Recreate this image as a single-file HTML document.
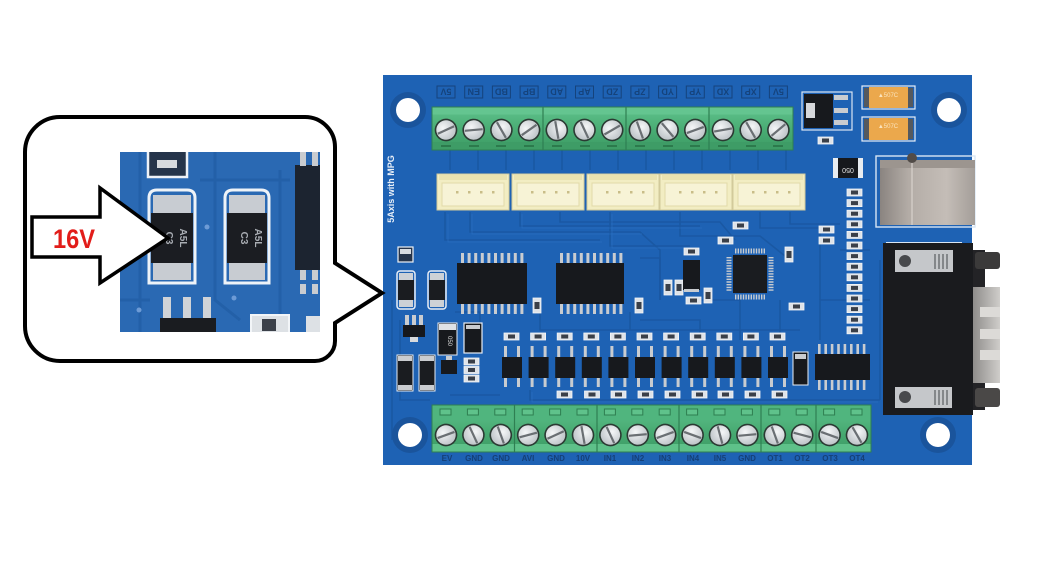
<!DOCTYPE html>
<html><head><meta charset="utf-8"><style>
html,body{margin:0;padding:0;background:#fff;width:1050px;height:568px;overflow:hidden;}
svg{display:block;}
text{font-family:"Liberation Sans",sans-serif;}
</style></head><body>
<svg width="1050" height="568" viewBox="0 0 1050 568" xmlns="http://www.w3.org/2000/svg">
<defs>
 <linearGradient id="grn" x1="0" y1="0" x2="0" y2="1">
  <stop offset="0" stop-color="#60c28c"/><stop offset="0.5" stop-color="#4aad75"/><stop offset="1" stop-color="#3c9b64"/>
 </linearGradient>
 <radialGradient id="scr" cx="0.4" cy="0.35" r="0.75">
  <stop offset="0" stop-color="#f4f6f7"/><stop offset="1" stop-color="#b6bcc1"/>
 </radialGradient>
 <linearGradient id="usbg" x1="0" y1="0" x2="1" y2="0">
  <stop offset="0" stop-color="#8a8480"/><stop offset="0.3" stop-color="#b3aca6"/><stop offset="0.7" stop-color="#c4bdb7"/><stop offset="1" stop-color="#a49e99"/>
 </linearGradient>
 <linearGradient id="shell" x1="0" y1="0" x2="1" y2="0">
  <stop offset="0" stop-color="#8f8d8b"/><stop offset="1" stop-color="#cfcdca"/>
 </linearGradient>
 <g id="sc">
  <circle r="10.5" fill="url(#scr)" stroke="#2b3a33" stroke-width="1.6"/>
  <line x1="-9" y1="0" x2="9" y2="0" stroke="#6a6f73" stroke-width="2.2"/>
 </g>
 <g id="r">
  <rect x="0" y="0" width="15" height="7" fill="#dfe3e8" stroke="#f3f5f8" stroke-width="0.8"/>
  <rect x="4" y="1.5" width="7" height="4" fill="#3a3f48"/>
 </g>
 <g id="rv">
  <rect x="0" y="0" width="8" height="15" fill="#dfe3e8" stroke="#f3f5f8" stroke-width="0.8"/>
  <rect x="1.5" y="4" width="5" height="7" fill="#3a3f48"/>
 </g>
 <g id="op">
  <rect x="2" y="0" width="3" height="11" fill="#c9ccd0"/>
  <rect x="15" y="0" width="3" height="11" fill="#c9ccd0"/>
  <rect x="2" y="31" width="3" height="10" fill="#c9ccd0"/>
  <rect x="15" y="31" width="3" height="10" fill="#c9ccd0"/>
  <rect x="0" y="11" width="20" height="21" fill="#17191d"/>
 </g>
 <g id="jst">
  <rect x="0" y="0" width="72" height="36" fill="#f2edc3" stroke="#d2ca9b" stroke-width="1"/>
  <rect x="2" y="1" width="68" height="5" fill="#e9e2b0"/>
  <rect x="5" y="9" width="62" height="23" fill="#f7f3d6" stroke="#e2daa9" stroke-width="1"/>
  <rect x="19" y="17" width="2.5" height="2.5" fill="#c9bd88"/>
  <rect x="31" y="17" width="2.5" height="2.5" fill="#c9bd88"/>
  <rect x="43" y="17" width="2.5" height="2.5" fill="#c9bd88"/>
  <rect x="55" y="17" width="2.5" height="2.5" fill="#c9bd88"/>
 </g>
 <clipPath id="ph"><rect x="120" y="152" width="200" height="180"/></clipPath>
</defs>

<rect width="1050" height="568" fill="#fff"/>

<!-- ================= BOARD ================= -->
<rect x="383" y="75" width="589" height="390" fill="#1e62b4"/>
<!-- traces texture -->
<g fill="none" stroke="#1a58a3" stroke-width="1.6">
 <path d="M450 150 V170 M478 150 V170 M506 150 V170 M534 150 V170 M562 150 V170 M590 150 V170 M618 150 V170 M646 150 V170 M674 150 V170 M702 150 V170 M730 150 V170 M758 150 V170 M786 150 V170"/>
 <path d="M445 212 V240 H600 M470 212 V232 H640 L660 250 V300 M520 212 V226 H700 M560 212 V222 H720 L735 240 M610 212 V246 H690 M680 212 V236 H760 L790 260 M760 212 V228 H820 V300 M790 212 V224 H840"/>
 <path d="M400 320 V400 H430 M392 300 V440 M450 395 H500 M530 390 V400 H880 M880 260 V400 M870 250 H840 M640 320 H700 V340 M700 300 H740 V340 M780 300 V340 M820 340 V300 H870"/>
 <path d="M540 310 V330 H800 M455 312 H480 V330 M630 312 V330 M640 258 H660 V300"/>
</g>
<g fill="none" stroke="#2a70c2" stroke-width="0.8" opacity="0.8">
 <path d="M448 214 V242 H602 M472 214 V234 H642 M522 214 V228 H702 M612 214 V248 H692"/>
 <path d="M532 392 V402 H878"/>
</g>

<!-- holes -->
<circle cx="408" cy="110" r="18" fill="#1a549c"/><circle cx="408" cy="110" r="12" fill="#fff"/>
<circle cx="949" cy="110" r="18" fill="#1a549c"/><circle cx="949" cy="110" r="12" fill="#fff"/>
<circle cx="410" cy="435" r="18" fill="#1a549c"/><circle cx="410" cy="435" r="12" fill="#fff"/>
<circle cx="938" cy="435" r="18" fill="#1a549c"/><circle cx="938" cy="435" r="12" fill="#fff"/>

<!-- side text -->
<text transform="translate(394,189) rotate(-90)" font-size="9" font-weight="bold" fill="#e8eff8" text-anchor="middle">5Axis with MPG</text>

<!-- top labels (upside down) -->
<g font-size="9" font-weight="bold" fill="#15437c" text-anchor="middle">
 <g transform="translate(446,92) rotate(180)"><rect x="-9" y="-6" width="18" height="12" fill="none" stroke="#15437c"/><text y="3.5">5V</text></g>
 <g transform="translate(473.7,92) rotate(180)"><rect x="-9" y="-6" width="18" height="12" fill="none" stroke="#15437c"/><text y="3.5">EN</text></g>
 <g transform="translate(501.4,92) rotate(180)"><rect x="-9" y="-6" width="18" height="12" fill="none" stroke="#15437c"/><text y="3.5">BD</text></g>
 <g transform="translate(529.1,92) rotate(180)"><rect x="-9" y="-6" width="18" height="12" fill="none" stroke="#15437c"/><text y="3.5">BP</text></g>
 <g transform="translate(556.8,92) rotate(180)"><rect x="-9" y="-6" width="18" height="12" fill="none" stroke="#15437c"/><text y="3.5">AD</text></g>
 <g transform="translate(584.5,92) rotate(180)"><rect x="-9" y="-6" width="18" height="12" fill="none" stroke="#15437c"/><text y="3.5">AP</text></g>
 <g transform="translate(612.2,92) rotate(180)"><rect x="-9" y="-6" width="18" height="12" fill="none" stroke="#15437c"/><text y="3.5">ZD</text></g>
 <g transform="translate(639.9,92) rotate(180)"><rect x="-9" y="-6" width="18" height="12" fill="none" stroke="#15437c"/><text y="3.5">ZP</text></g>
 <g transform="translate(667.6,92) rotate(180)"><rect x="-9" y="-6" width="18" height="12" fill="none" stroke="#15437c"/><text y="3.5">YD</text></g>
 <g transform="translate(695.3,92) rotate(180)"><rect x="-9" y="-6" width="18" height="12" fill="none" stroke="#15437c"/><text y="3.5">YP</text></g>
 <g transform="translate(723,92) rotate(180)"><rect x="-9" y="-6" width="18" height="12" fill="none" stroke="#15437c"/><text y="3.5">XD</text></g>
 <g transform="translate(750.7,92) rotate(180)"><rect x="-9" y="-6" width="18" height="12" fill="none" stroke="#15437c"/><text y="3.5">XP</text></g>
 <g transform="translate(778.4,92) rotate(180)"><rect x="-9" y="-6" width="18" height="12" fill="none" stroke="#15437c"/><text y="3.5">5V</text></g>
</g>

<!-- top terminal block -->
<rect x="432" y="107" width="361" height="43" fill="url(#grn)" stroke="#2f7f52" stroke-width="1"/>
<rect x="432.5" y="107.5" width="360" height="7" fill="#64c590"/>
<rect x="432.5" y="142" width="360" height="7.5" fill="#3e9c66"/>
<g stroke="#2f7f52" stroke-width="1.2"><line x1="543" y1="107" x2="543" y2="150"/><line x1="626" y1="107" x2="626" y2="150"/><line x1="709" y1="107" x2="709" y2="150"/></g>
<g fill="#2c7a4c">
 <rect x="441" y="145" width="10" height="2"/><rect x="469" y="145" width="10" height="2"/><rect x="496" y="145" width="10" height="2"/><rect x="524" y="145" width="10" height="2"/><rect x="552" y="145" width="10" height="2"/><rect x="580" y="145" width="10" height="2"/><rect x="607" y="145" width="10" height="2"/><rect x="635" y="145" width="10" height="2"/><rect x="663" y="145" width="10" height="2"/><rect x="690" y="145" width="10" height="2"/><rect x="718" y="145" width="10" height="2"/><rect x="746" y="145" width="10" height="2"/><rect x="773" y="145" width="10" height="2"/>
</g>
<use href="#sc" transform="translate(446,130) rotate(-25)"/>
<use href="#sc" transform="translate(473.7,130) rotate(-5)"/>
<use href="#sc" transform="translate(501.4,130) rotate(60)"/>
<use href="#sc" transform="translate(529.1,130) rotate(-35)"/>
<use href="#sc" transform="translate(556.8,130) rotate(80)"/>
<use href="#sc" transform="translate(584.5,130) rotate(65)"/>
<use href="#sc" transform="translate(612.2,130) rotate(-30)"/>
<use href="#sc" transform="translate(639.9,130) rotate(70)"/>
<use href="#sc" transform="translate(667.6,130) rotate(50)"/>
<use href="#sc" transform="translate(695.3,130) rotate(-20)"/>
<use href="#sc" transform="translate(723,130) rotate(-10)"/>
<use href="#sc" transform="translate(750.7,130) rotate(60)"/>
<use href="#sc" transform="translate(778.4,130) rotate(-40)"/>

<!-- JST connectors -->
<use href="#jst" x="437" y="174"/>
<use href="#jst" x="512" y="174"/>
<use href="#jst" x="587" y="174" />
<use href="#jst" x="660" y="174"/>
<use href="#jst" x="733" y="174"/>

<!-- regulator top right -->
<rect x="802" y="92" width="50" height="38" fill="none" stroke="#d9e5f2" stroke-width="1.2"/>
<rect x="804" y="94" width="29" height="34" fill="#17191d"/>
<rect x="806" y="103" width="9" height="15" fill="#d6d8db"/>
<rect x="834" y="95" width="14" height="5" fill="#c9ccd0"/><rect x="834" y="108" width="14" height="5" fill="#c9ccd0"/><rect x="834" y="120" width="14" height="5" fill="#c9ccd0"/>
<!-- tantalum caps -->
<g>
 <rect x="862" y="86" width="53" height="23" fill="none" stroke="#e6eef8" stroke-width="1.2"/>
 <rect x="864" y="88" width="6" height="19" fill="#55595e"/><rect x="907" y="88" width="6" height="19" fill="#55595e"/>
 <rect x="869" y="87" width="39" height="21" fill="#eba84c"/>
 <text x="888" y="97" font-size="6" fill="#fbe4bd" text-anchor="middle">▲507C</text>
 <rect x="862" y="117" width="53" height="24" fill="none" stroke="#e6eef8" stroke-width="1.2"/>
 <rect x="864" y="119" width="6" height="20" fill="#55595e"/><rect x="907" y="119" width="6" height="20" fill="#55595e"/>
 <rect x="869" y="118" width="39" height="22" fill="#eba84c"/>
 <text x="888" y="128" font-size="6" fill="#fbe4bd" text-anchor="middle">▲507C</text>
</g>
<use href="#r" x="818" y="137"/>
<!-- fuse 050 -->
<rect x="833" y="158" width="30" height="20" fill="#e8ecf0"/>
<rect x="838" y="158" width="20" height="20" fill="#16181c"/>
<text transform="translate(848,168) rotate(180)" font-size="7" fill="#e6e6e6" text-anchor="middle">050</text>

<!-- USB -->
<rect x="876" y="156" width="99" height="71" fill="none" stroke="#d8e6f4" stroke-width="1.4"/>
<rect x="880" y="160" width="95" height="65" fill="url(#usbg)"/>
<rect x="880" y="160" width="95" height="8" fill="#9c958f"/>
<line x1="912" y1="160" x2="912" y2="225" stroke="#d8d2cc" stroke-width="1.2"/>
<circle cx="912" cy="158" r="5" fill="#514b47"/>

<!-- right resistor column -->
<use href="#r" x="847" y="189"/><use href="#r" x="847" y="199.6"/><use href="#r" x="847" y="210.2"/><use href="#r" x="847" y="220.8"/><use href="#r" x="847" y="231.4"/><use href="#r" x="847" y="242"/><use href="#r" x="847" y="252.6"/><use href="#r" x="847" y="263.2"/><use href="#r" x="847" y="273.8"/><use href="#r" x="847" y="284.4"/><use href="#r" x="847" y="295"/><use href="#r" x="847" y="305.6"/><use href="#r" x="847" y="316.2"/><use href="#r" x="847" y="326.8"/>
<use href="#r" x="819" y="226"/><use href="#r" x="819" y="237"/>

<!-- DB9 -->
<rect x="886" y="242" width="76" height="2" fill="#d8e6f4"/>
<rect x="883" y="243" width="90" height="172" fill="#1a1b1e"/>
<rect x="973" y="250" width="12" height="160" fill="#232326"/>
<rect x="973" y="287" width="27" height="96" fill="url(#shell)"/>
<rect x="980" y="307" width="20" height="10" fill="#dcdad7"/>
<rect x="980" y="329" width="20" height="10" fill="#dcdad7"/>
<rect x="980" y="350" width="20" height="10" fill="#dcdad7"/>
<rect x="975" y="252" width="25" height="17" rx="3" fill="#3b3a3a"/>
<rect x="975" y="388" width="25" height="19" rx="3" fill="#4a4847"/>
<rect x="895" y="250" width="58" height="22" fill="#c5c7ca"/>
<circle cx="905" cy="261" r="6" fill="#48494c"/>
<g stroke="#5a5c60" stroke-width="1.2"><line x1="935" y1="254" x2="935" y2="269"/><line x1="939" y1="254" x2="939" y2="269"/><line x1="943" y1="254" x2="943" y2="269"/><line x1="947" y1="254" x2="947" y2="269"/></g>
<rect x="895" y="387" width="57" height="21" fill="#c5c7ca"/>
<circle cx="905" cy="397" r="6" fill="#48494c"/>
<g stroke="#5a5c60" stroke-width="1.2"><line x1="935" y1="390" x2="935" y2="405"/><line x1="939" y1="390" x2="939" y2="405"/><line x1="943" y1="390" x2="943" y2="405"/><line x1="947" y1="390" x2="947" y2="405"/></g>

<!-- TSSOP ICs -->
<line x1="461" y1="258" x2="523.4" y2="258" stroke="#c9ccd0" stroke-width="10" stroke-dasharray="3 3.6"/>
<line x1="461" y1="309" x2="523.4" y2="309" stroke="#c9ccd0" stroke-width="10" stroke-dasharray="3 3.6"/>
<rect x="457" y="263" width="70" height="41" fill="#17191d"/>
<line x1="560" y1="258" x2="622.4" y2="258" stroke="#c9ccd0" stroke-width="10" stroke-dasharray="3 3.6"/>
<line x1="560" y1="309" x2="622.4" y2="309" stroke="#c9ccd0" stroke-width="10" stroke-dasharray="3 3.6"/>
<rect x="556" y="263" width="68" height="41" fill="#17191d"/>
<use href="#rv" x="533" y="298"/>

<!-- middle parts -->
<use href="#r" x="733" y="222"/>
<use href="#r" x="718" y="237"/>
<use href="#r" x="684" y="248"/>
<use href="#rv" x="785" y="247"/>
<use href="#rv" x="664" y="280"/>
<use href="#rv" x="675" y="280"/>
<use href="#r" x="686" y="297"/>
<use href="#rv" x="704" y="288"/>
<use href="#r" x="789" y="303"/>
<use href="#rv" x="635" y="298"/>
<rect x="683" y="260" width="17" height="30" fill="#17191d"/>
<rect x="684" y="289" width="15" height="3" fill="#c9ccd0"/>
<!-- QFP -->
<line x1="735" y1="251" x2="765" y2="251" stroke="#c9ccd0" stroke-width="5" stroke-dasharray="1.4 1.2"/>
<line x1="735" y1="297" x2="765" y2="297" stroke="#c9ccd0" stroke-width="5" stroke-dasharray="1.4 1.2"/>
<line x1="729" y1="257" x2="729" y2="291" stroke="#c9ccd0" stroke-width="5" stroke-dasharray="1.4 1.3"/>
<line x1="771" y1="257" x2="771" y2="291" stroke="#c9ccd0" stroke-width="5" stroke-dasharray="1.4 1.3"/>
<rect x="733" y="255" width="34" height="38" fill="#1a1c20"/>

<!-- left components -->
<rect x="398" y="247" width="15" height="15" fill="#26344a" stroke="#eef2f7" stroke-width="1.2"/>
<rect x="400" y="249" width="11" height="5" fill="#d8dce1"/>
<g>
 <rect x="397" y="271" width="18" height="38" rx="3" fill="none" stroke="#e8eef6" stroke-width="1.5"/>
 <rect x="399" y="273" width="14" height="8" fill="#cdd1d6"/>
 <rect x="399" y="300" width="14" height="7" fill="#cdd1d6"/>
 <rect x="398" y="280" width="16" height="20" fill="#1a1c20"/>
 <rect x="428" y="271" width="18" height="38" rx="3" fill="none" stroke="#e8eef6" stroke-width="1.5"/>
 <rect x="430" y="273" width="14" height="8" fill="#cdd1d6"/>
 <rect x="430" y="300" width="14" height="7" fill="#cdd1d6"/>
 <rect x="429" y="280" width="16" height="20" fill="#1a1c20"/>
</g>
<rect x="405" y="315" width="4" height="10" fill="#c9ccd0"/><rect x="412" y="315" width="4" height="10" fill="#c9ccd0"/><rect x="419" y="315" width="4" height="10" fill="#c9ccd0"/>
<rect x="403" y="325" width="22" height="12" fill="#16181c"/>
<rect x="410" y="337" width="8" height="5" fill="#d8dadd"/>
<rect x="397" y="355" width="16" height="36" fill="#1a1c20" stroke="#e8eef6" stroke-width="1"/>
<rect x="398" y="356" width="14" height="5" fill="#c9ccd0"/><rect x="398" y="385" width="14" height="5" fill="#c9ccd0"/>
<rect x="419" y="355" width="16" height="36" fill="#1a1c20" stroke="#e8eef6" stroke-width="1"/>
<rect x="420" y="356" width="14" height="5" fill="#c9ccd0"/><rect x="420" y="385" width="14" height="5" fill="#c9ccd0"/>
<rect x="438" y="323" width="19" height="32" fill="#17191d" stroke="#e8eef6" stroke-width="1"/>
<rect x="439" y="324" width="17" height="6" fill="#dfe2e6"/>
<text transform="translate(448,341) rotate(90)" font-size="6" fill="#ddd" text-anchor="middle">050</text>
<rect x="464" y="323" width="18" height="30" fill="#17191d" stroke="#e8eef6" stroke-width="1.2"/>
<rect x="466" y="325" width="14" height="4" fill="#c9ccd0"/>
<use href="#r" x="464" y="358"/><use href="#r" x="464" y="366.5"/><use href="#r" x="464" y="375"/>
<rect x="441" y="360" width="16" height="14" fill="#17191d"/>
<rect x="446" y="356" width="6" height="4" fill="#c9ccd0"/>

<!-- resistors above optos -->
<use href="#r" x="504" y="333"/><use href="#r" x="530.6" y="333"/><use href="#r" x="557.2" y="333"/><use href="#r" x="583.8" y="333"/><use href="#r" x="610.4" y="333"/><use href="#r" x="637" y="333"/><use href="#r" x="663.6" y="333"/><use href="#r" x="690.2" y="333"/><use href="#r" x="716.8" y="333"/><use href="#r" x="743.4" y="333"/><use href="#r" x="770" y="333"/>
<!-- optos -->
<use href="#op" x="502" y="346"/><use href="#op" x="528.6" y="346"/><use href="#op" x="555.2" y="346"/><use href="#op" x="581.8" y="346"/><use href="#op" x="608.4" y="346"/><use href="#op" x="635" y="346"/><use href="#op" x="661.6" y="346"/><use href="#op" x="688.2" y="346"/><use href="#op" x="714.8" y="346"/><use href="#op" x="741.4" y="346"/><use href="#op" x="768" y="346"/>
<!-- resistors below -->
<use href="#r" x="557" y="391"/><use href="#r" x="584.5" y="391"/><use href="#r" x="611" y="391"/><use href="#r" x="638" y="391"/><use href="#r" x="665" y="391"/><use href="#r" x="692" y="391"/><use href="#r" x="718" y="391"/><use href="#r" x="745" y="391"/><use href="#r" x="772" y="391"/>
<!-- small black comp and SOIC16 -->
<rect x="793" y="352" width="15" height="33" fill="#17191d" stroke="#e8eef6" stroke-width="1"/>
<rect x="795" y="354" width="11" height="5" fill="#c9ccd0"/>
<line x1="818" y1="349" x2="867" y2="349" stroke="#c9ccd0" stroke-width="10" stroke-dasharray="2.6 3.8"/>
<line x1="818" y1="385" x2="867" y2="385" stroke="#c9ccd0" stroke-width="10" stroke-dasharray="2.6 3.8"/>
<rect x="815" y="354" width="55" height="26" fill="#17191d"/>

<!-- bottom terminal block -->
<rect x="432" y="405" width="439" height="47" fill="url(#grn)" stroke="#2f7f52" stroke-width="1"/>
<rect x="432.5" y="405.5" width="438" height="15" fill="#50b57e"/>
<rect x="432.5" y="444" width="438" height="7.5" fill="#5ec189"/>
<g stroke="#2f7f52" stroke-width="1.2"><line x1="514.5" y1="405" x2="514.5" y2="452"/><line x1="597" y1="405" x2="597" y2="452"/><line x1="679" y1="405" x2="679" y2="452"/><line x1="761" y1="405" x2="761" y2="452"/><line x1="816" y1="405" x2="816" y2="452"/></g>
<g fill="#5fc28b" stroke="#2e7e50" stroke-width="1">
 <rect x="440" y="409" width="11" height="6"/><rect x="467.4" y="409" width="11" height="6"/><rect x="494.8" y="409" width="11" height="6"/><rect x="522.2" y="409" width="11" height="6"/><rect x="549.6" y="409" width="11" height="6"/><rect x="577" y="409" width="11" height="6"/><rect x="604.4" y="409" width="11" height="6"/><rect x="631.8" y="409" width="11" height="6"/><rect x="659.2" y="409" width="11" height="6"/><rect x="686.6" y="409" width="11" height="6"/><rect x="714" y="409" width="11" height="6"/><rect x="741.4" y="409" width="11" height="6"/><rect x="768.8" y="409" width="11" height="6"/><rect x="796.2" y="409" width="11" height="6"/><rect x="823.6" y="409" width="11" height="6"/><rect x="851" y="409" width="11" height="6"/>
</g>
<use href="#sc" transform="translate(446,435) rotate(-20)"/>
<use href="#sc" transform="translate(473.4,435) rotate(65)"/>
<use href="#sc" transform="translate(500.8,435) rotate(70)"/>
<use href="#sc" transform="translate(528.2,435) rotate(-15)"/>
<use href="#sc" transform="translate(555.6,435) rotate(-25)"/>
<use href="#sc" transform="translate(583,435) rotate(80)"/>
<use href="#sc" transform="translate(610.4,435) rotate(65)"/>
<use href="#sc" transform="translate(637.8,435) rotate(-5)"/>
<use href="#sc" transform="translate(665.2,435) rotate(-20)"/>
<use href="#sc" transform="translate(692.6,435) rotate(20)"/>
<use href="#sc" transform="translate(720,435) rotate(75)"/>
<use href="#sc" transform="translate(747.4,435) rotate(-5)"/>
<use href="#sc" transform="translate(774.8,435) rotate(70)"/>
<use href="#sc" transform="translate(802.2,435) rotate(15)"/>
<use href="#sc" transform="translate(829.6,435) rotate(20)"/>
<use href="#sc" transform="translate(857,435) rotate(60)"/>
<!-- bottom labels -->
<g font-size="8" font-weight="bold" fill="#163f76" text-anchor="middle">
 <text x="447" y="461">EV</text><text x="474" y="461">GND</text><text x="501" y="461">GND</text><text x="528" y="461">AVI</text><text x="556" y="461">GND</text><text x="583" y="461">10V</text>
 <text x="610" y="461">IN1</text><text x="638" y="461">IN2</text><text x="665" y="461">IN3</text><text x="693" y="461">IN4</text><text x="720" y="461">IN5</text><text x="747" y="461">GND</text>
 <text x="775" y="461">OT1</text><text x="802" y="461">OT2</text><text x="830" y="461">OT3</text><text x="857" y="461">OT4</text>
</g>

<!-- ================= CALLOUT ================= -->
<path d="M60 117 H305 A30 30 0 0 1 335 147 V263 L382 293 L335 323 V341 A20 20 0 0 1 315 361 H60 A35 35 0 0 1 25 326 V152 A35 35 0 0 1 60 117 Z" fill="#fff" stroke="#000" stroke-width="4" stroke-linejoin="miter"/>

<!-- inner photo -->
<g clip-path="url(#ph)">
 <rect x="120" y="152" width="200" height="180" fill="#2a69b3"/>
 <g fill="none" stroke="#2360a8" stroke-width="3">
  <path d="M140 152 V332 M215 152 V300 L240 320 M280 170 V332 M120 300 H150 M200 180 H290"/>
 </g>
 <!-- top small comp -->
 <rect x="148" y="150" width="39" height="27" fill="#25344a" stroke="#eef2f7" stroke-width="2.5"/>
 <rect x="157" y="160" width="20" height="8" fill="#d6dade"/>
 <!-- cap 1 -->
 <path d="M149 283 V198 Q149 190 157 190 H187 Q195 190 195 198 V283 Z" fill="#2a69b3" stroke="#eef3f8" stroke-width="3"/>
 <rect x="153" y="195" width="38" height="22" fill="#c8ccd2"/>
 <rect x="153" y="260" width="38" height="20" fill="#c8ccd2"/>
 <rect x="151" y="213" width="42" height="50" fill="#1b1d22"/>
 <text transform="translate(166,238) rotate(90)" font-size="10" font-weight="bold" fill="#a9adb3" text-anchor="middle">C3</text>
 <text transform="translate(180,238) rotate(90)" font-size="10" font-weight="bold" fill="#a9adb3" text-anchor="middle">A5L</text>
 <!-- cap 2 -->
 <path d="M225 283 V198 Q225 190 233 190 H261 Q269 190 269 198 V283 Z" fill="#2a69b3" stroke="#eef3f8" stroke-width="3"/>
 <rect x="229" y="195" width="36" height="22" fill="#c8ccd2"/>
 <rect x="229" y="260" width="36" height="20" fill="#c8ccd2"/>
 <rect x="227" y="213" width="40" height="50" fill="#1b1d22"/>
 <text transform="translate(241,238) rotate(90)" font-size="10" font-weight="bold" fill="#a9adb3" text-anchor="middle">C3</text>
 <text transform="translate(255,238) rotate(90)" font-size="10" font-weight="bold" fill="#a9adb3" text-anchor="middle">A5L</text>
 <!-- right IC -->
 <rect x="295" y="165" width="30" height="105" fill="#1c2430"/>
 <rect x="300" y="152" width="6" height="14" fill="#c9ccd0"/><rect x="312" y="152" width="6" height="14" fill="#c9ccd0"/>
 <rect x="300" y="270" width="6" height="10" fill="#c9ccd0"/><rect x="312" y="270" width="6" height="10" fill="#c9ccd0"/>
 <rect x="300" y="284" width="6" height="10" fill="#c9ccd0"/><rect x="312" y="284" width="6" height="10" fill="#c9ccd0"/>
 <!-- bottom SOT -->
 <rect x="163" y="297" width="8" height="21" fill="#d0d3d7"/><rect x="183" y="297" width="8" height="21" fill="#d0d3d7"/><rect x="203" y="297" width="8" height="21" fill="#d0d3d7"/>
 <rect x="160" y="318" width="56" height="16" fill="#1a1c20"/>
 <!-- bottom right comps -->
 <rect x="251" y="315" width="38" height="20" fill="#dde1e5" stroke="#f2f5f8" stroke-width="2"/>
 <rect x="262" y="319" width="14" height="12" fill="#3b4049"/>
 <rect x="306" y="316" width="14" height="18" fill="#dde1e5"/>
 <circle cx="207" cy="227" r="2.5" fill="#6d9bd6"/><circle cx="234" cy="298" r="2.5" fill="#6d9bd6"/><circle cx="139" cy="310" r="2.5" fill="#6d9bd6"/>
</g>

<!-- arrow -->
<path d="M32 217 H100 V188 L168 238 L100 283 V257 H32 Z" fill="#fff" stroke="#000" stroke-width="3.5" stroke-linejoin="miter"/>
<text x="74" y="248" font-size="27" font-weight="bold" fill="#e21d1a" text-anchor="middle" textLength="42" lengthAdjust="spacingAndGlyphs">16V</text>

</svg>
</body></html>
